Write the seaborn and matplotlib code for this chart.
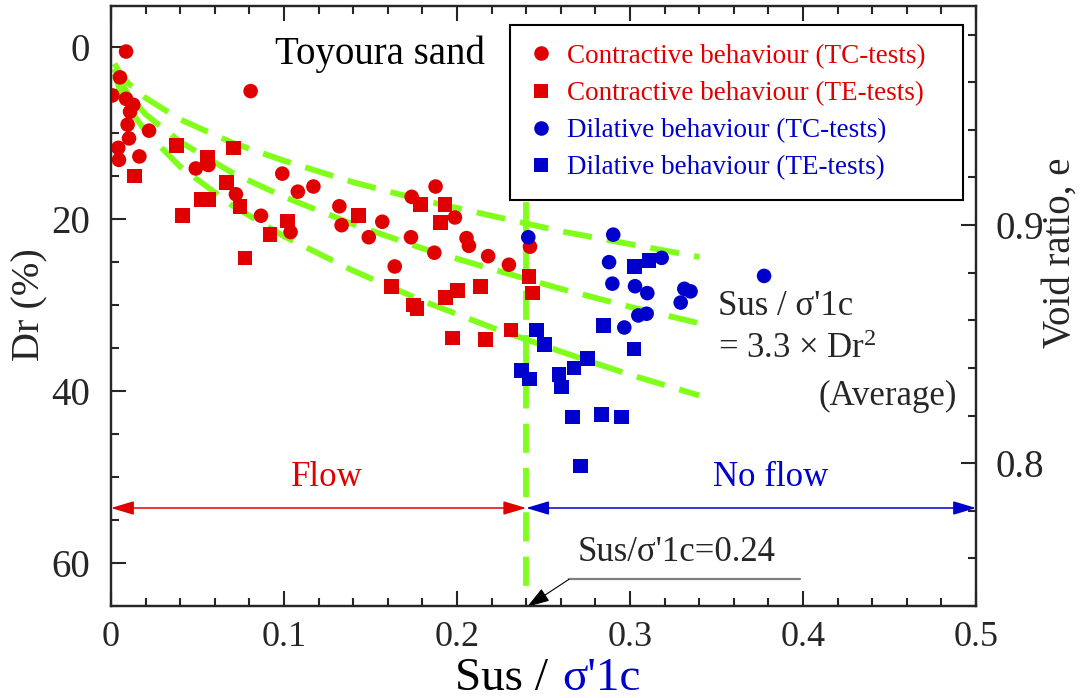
import numpy as np
import pandas as pd
import matplotlib
matplotlib.use("Agg")
import matplotlib.pyplot as plt
import seaborn as sns
from matplotlib.ticker import MultipleLocator, FixedLocator, FuncFormatter
from matplotlib.lines import Line2D

# ---------------- data ----------------
contr_tc_x = [0.0087, 0.0052, 0.0008, 0.0087, 0.0129, 0.0110, 0.0096, 0.0220, 0.0104, 0.0042,
              0.0046, 0.0164, 0.0807, 0.0490, 0.0563, 0.0722, 0.0867, 0.1038, 0.0990, 0.1080,
              0.1170, 0.1320, 0.1333, 0.1568, 0.1490, 0.1734, 0.1640, 0.1738, 0.1876, 0.1988,
              0.1869, 0.2055, 0.2069, 0.2180, 0.2300, 0.2422]
contr_tc_dr = [0.5, 3.5, 5.6, 6.0, 6.7, 7.5, 9.0, 9.7, 10.6, 11.7,
               13.1, 12.7, 5.1, 14.1, 13.7, 17.1, 19.6, 21.5, 14.7, 16.8,
               16.2, 18.5, 20.7, 20.3, 22.1, 22.1, 25.5, 17.4, 16.2, 19.8,
               23.9, 22.2, 23.1, 24.3, 25.3, 23.2]

contr_te_x = [0.0380, 0.0135, 0.0558, 0.0707, 0.0669, 0.0524, 0.0563, 0.0412, 0.0745, 0.0919,
              0.1020, 0.0775, 0.1430, 0.1790, 0.1930, 0.1905, 0.1620, 0.1750, 0.1770, 0.1934,
              0.2003, 0.2137, 0.2312, 0.1975, 0.2166, 0.2416, 0.2435]
contr_te_dr = [11.4, 15.0, 12.8, 11.7, 15.7, 17.7, 17.7, 19.6, 18.5, 21.8,
               20.2, 24.5, 19.6, 18.3, 18.3, 20.4, 27.8, 30.0, 30.4, 29.1,
               28.3, 27.8, 32.9, 33.8, 34.0, 26.7, 28.6]

dil_tc_x = [0.2412, 0.2903, 0.2879, 0.2898, 0.3029, 0.3100, 0.3183, 0.3048, 0.3096, 0.2967,
            0.3314, 0.3350, 0.3293, 0.3775]
dil_tc_dr = [22.1, 21.8, 25.0, 27.5, 27.8, 28.6, 24.5, 31.2, 31.0, 32.6,
             28.1, 28.4, 29.7, 26.6]

dil_te_x = [0.3025, 0.3111, 0.2846, 0.2460, 0.2505, 0.2373, 0.2418, 0.2590, 0.2604, 0.2676,
            0.2753, 0.3023, 0.2667, 0.2836, 0.2951, 0.2715]
dil_te_dr = [25.5, 24.8, 32.4, 32.9, 34.6, 37.6, 38.6, 38.1, 39.5, 37.3,
             36.2, 35.1, 43.0, 42.7, 43.0, 48.7]

labels = ["Contractive behaviour (TC-tests)", "Contractive behaviour (TE-tests)",
          "Dilative behaviour (TC-tests)", "Dilative behaviour (TE-tests)"]

# green guide curves
guide_x = [0.002, 0.005, 0.01, 0.02, 0.04, 0.07, 0.10, 0.14, 0.18, 0.22, 0.26, 0.30, 0.34]
guide_upper = [1.9, 3.0, 4.2, 5.9, 8.4, 11.1, 13.2, 15.7, 17.8, 19.6, 21.4, 22.9, 24.4]
guide_avg = [2.5, 3.9, 5.5, 7.8, 11.0, 14.6, 17.4, 20.6, 23.4, 25.8, 28.1, 30.2, 32.1]
guide_lower = [3.1, 4.9, 7.0, 9.8, 13.9, 18.4, 22.0, 26.0, 29.5, 32.6, 35.4, 38.1, 40.5]
threshold = 0.24
threshold_dr = [18.0, 63.8]

x_ticks = [0, 0.1, 0.2, 0.3, 0.4, 0.5]
y_ticks = [0, 20, 40, 60]
e_ticks = [0.8, 0.9]

RED = "#E00000"
BLUE = "#0000CC"
GREEN = "#80FF1A"

# ---------------- style ----------------
sns.set_style("ticks")
plt.rcParams['font.family'] = ['Liberation Serif', 'DejaVu Serif']
plt.rcParams['mathtext.fontset'] = 'custom'
plt.rcParams['mathtext.rm'] = 'Liberation Serif'
plt.rcParams['mathtext.it'] = 'Liberation Serif:italic'
plt.rcParams['mathtext.default'] = 'regular'
plt.rcParams['axes.linewidth'] = 1.6

fig = plt.figure(figsize=(10.8, 6.98), dpi=100)
ax = fig.add_axes([111/1080, 1-606/698, 865/1080, 600/698])

df = pd.concat([
    pd.DataFrame({"x": contr_tc_x, "Dr": contr_tc_dr, "group": labels[0]}),
    pd.DataFrame({"x": contr_te_x, "Dr": contr_te_dr, "group": labels[1]}),
    pd.DataFrame({"x": dil_tc_x, "Dr": dil_tc_dr, "group": labels[2]}),
    pd.DataFrame({"x": dil_te_x, "Dr": dil_te_dr, "group": labels[3]}),
], ignore_index=True)

palette = {labels[0]: RED, labels[1]: RED, labels[2]: BLUE, labels[3]: BLUE}
markers = {labels[0]: "o", labels[1]: "s", labels[2]: "o", labels[3]: "s"}

# guide curves
dash = (0, (5.0, 2.6))
for g in (guide_upper, guide_avg, guide_lower):
    ax.plot(guide_x, g, color=GREEN, lw=4.2, linestyle=dash, zorder=2, dash_capstyle='butt')
ax.plot([threshold, threshold], threshold_dr, color=GREEN, lw=4.2, linestyle=dash, zorder=2,
        dash_capstyle='butt')

sns.scatterplot(data=df, x="x", y="Dr", hue="group", style="group", palette=palette,
                markers=markers, s=110, linewidth=0, ax=ax, legend=False, zorder=3)

ax.set_xlim(0, 0.5)
ax.set_ylim(65, -4.8)
ax.set_xlabel("")
ax.set_ylabel("")

fmt = FuncFormatter(lambda v, p: "%g" % v)
ax.xaxis.set_major_locator(FixedLocator(x_ticks))
ax.xaxis.set_minor_locator(MultipleLocator(0.02))
ax.yaxis.set_major_locator(FixedLocator(y_ticks))
ax.yaxis.set_minor_locator(MultipleLocator(5))
ax.xaxis.set_major_formatter(fmt)
ax.tick_params(axis='both', which='both', direction='in', width=1.5)
ax.tick_params(axis='x', which='both', top=True, bottom=True)
ax.tick_params(axis='y', which='both', left=True, right=False)
ax.tick_params(which='major', length=11)
ax.tick_params(which='minor', length=6)
ax.tick_params(axis='x', labelsize=26, pad=11)
ax.tick_params(axis='y', labelsize=28, pad=15)

# right axis: void ratio
ax2 = ax.twinx()
ax2.set_ylim(0.740, 0.992)
ax2.yaxis.set_major_locator(FixedLocator(e_ticks))
ax2.yaxis.set_minor_locator(MultipleLocator(0.02))
ax2.yaxis.set_major_formatter(fmt)
ax2.tick_params(axis='y', which='both', direction='in', width=1.5, right=True, left=False)
ax2.tick_params(which='major', length=11, labelsize=28, pad=14)
ax2.tick_params(which='minor', length=6)
for sp in ax2.spines.values():
    sp.set_linewidth(1.6)

# legend
handles = [Line2D([], [], marker=markers[l], color=palette[l], linestyle='none',
                  markersize=10.5, markeredgewidth=0) for l in labels]
leg = ax.legend(handles, labels, loc='upper left',
                bbox_to_anchor=((510-111)/865, (606-199)/600, (963-510)/865, (199-25)/600),
                mode='expand', borderaxespad=0, fontsize=19.5, handlelength=0.9,
                handletextpad=0.5, borderpad=0.7, labelspacing=0.45,
                fancybox=False, framealpha=1, edgecolor='black')
leg.get_frame().set_linewidth(1.5)
for t, l in zip(leg.get_texts(), labels):
    t.set_color(palette[l])

# texts
ax.text(0.0948, 1.9, "Toyoura sand", fontsize=28, ha='left', va='baseline', color='black')
ax.text(0.351, 31.2, "Sus / σ'1c", fontsize=25, ha='left', va='baseline')
ax.text(0.351, 36.2, "= 3.3 × Dr$^{2}$", fontsize=25, ha='left', va='baseline')
ax.text(0.489, 41.6, "(Average)", fontsize=25, ha='right', va='baseline')
ax.text(0.125, 50.0, "Flow", fontsize=25, ha='center', va='center', color=RED)
ax.text(0.381, 50.0, "No flow", fontsize=25, ha='center', va='center', color=BLUE)
ax.text(0.270, 58.8, "Sus/σ'1c=0.24", fontsize=25, ha='left', va='center')

# flow / no-flow arrows
ax.annotate("", xy=(0.0, 53.6), xytext=(threshold, 53.6),
            arrowprops=dict(arrowstyle='<|-|>,head_length=1.4,head_width=0.42', color=RED,
                            lw=1.1, shrinkA=0, shrinkB=0, mutation_scale=10), zorder=4)
ax.annotate("", xy=(0.5, 53.6), xytext=(threshold, 53.6),
            arrowprops=dict(arrowstyle='<|-|>,head_length=1.4,head_width=0.42', color=BLUE,
                            lw=1.1, shrinkA=0, shrinkB=0, mutation_scale=10), zorder=4,
            annotation_clip=False)

# leader for threshold label
ax.plot([0.2647, 0.398], [61.9, 61.9], color='#808080', lw=1.6, zorder=4)
ax.annotate("", xy=(0.2405, 65.1), xytext=(0.2647, 61.9),
            arrowprops=dict(arrowstyle='-|>,head_length=1.4,head_width=0.45', color='black',
                            lw=0.8, shrinkA=0, shrinkB=0, mutation_scale=10),
            annotation_clip=False, zorder=5)

# axis labels
fig.text(548/1080, 1-690/698, "Sus /", fontsize=34, ha='right', va='baseline', color='black')
fig.text(562/1080, 1-690/698, "σ'1c", fontsize=34, ha='left', va='baseline', color=BLUE)
fig.text(30/1080, 1-305/698, "Dr (%)", fontsize=29, rotation=90, ha='center', va='center')
fig.text(1060/1080, 1-253/698, "Void ratio, e", fontsize=28, rotation=90, ha='center', va='center')

fig.savefig("out.png", dpi=100)
